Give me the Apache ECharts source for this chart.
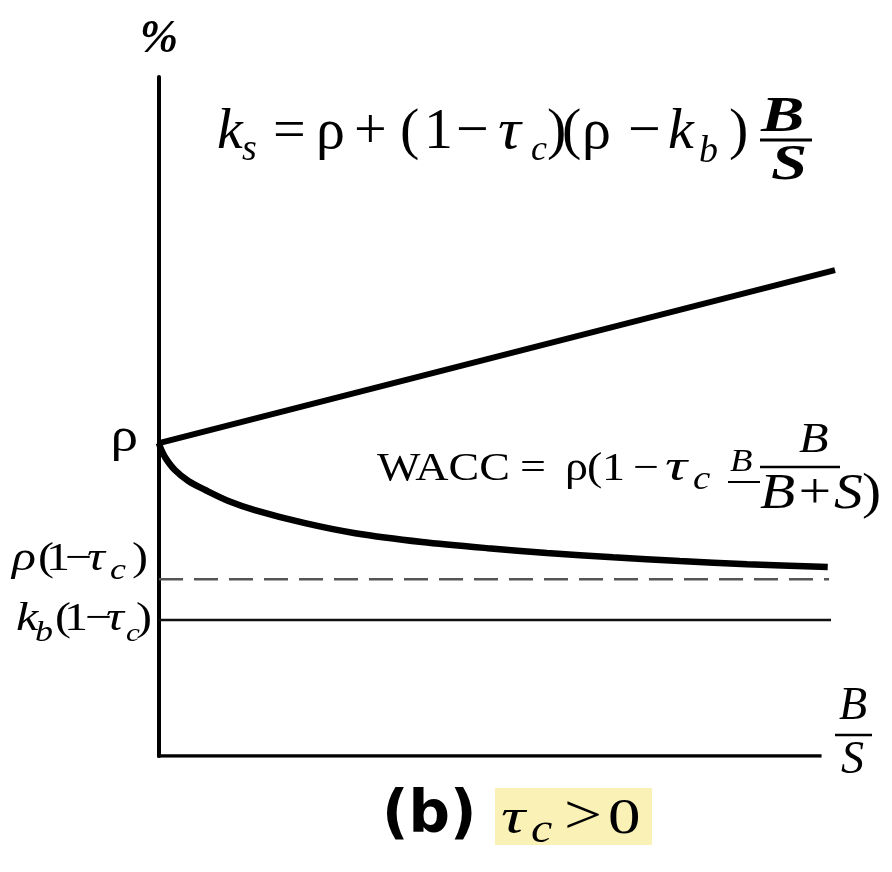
<!DOCTYPE html>
<html>
<head>
<meta charset="utf-8">
<script src="https://cdn.jsdelivr.net/npm/echarts@6/dist/echarts.min.js"></script>
<style>
  html, body { margin: 0; padding: 0; background: #fff; }
  #main { width: 892px; height: 872px; }
</style>
</head>
<body>
<div id="main"></div>
<script>
// x = B/S (debt / equity), y = cost of capital in units where rho = 10
const ksRatio = [0, 10.23];
const ksValues = [10, 15.53];
const waccRatio = [0, 0.03, 0.1, 0.24, 0.45, 0.70, 1.05, 1.45, 2.21, 2.97, 3.98, 4.98, 5.87, 6.87, 7.88, 8.90, 10.12];
const waccValues = [10, 9.81, 9.52, 9.14, 8.78, 8.50, 8.15, 7.86, 7.44, 7.12, 6.84, 6.64, 6.49, 6.35, 6.23, 6.13, 6.04];
const rho = 10;
const rhoAfterTax = 5.65;     // rho(1 - tc), dashed
const debtAfterTax = 4.35;    // kb(1 - tc)
const rhoLineEnd = 10.14;
const debtLineEnd = 10.17;
const axisEnd = 10;           // where the B/S axis stops
const xMax = 10.23;
const yMax = 21.7;

const SERIF = '"Liberation Serif", "DejaVu Serif", serif';
const SANS = '"DejaVu Sans", "Noto Sans", sans-serif';

const zip = (xs, ys) => xs.map((x, i) => [x, ys[i]]);

// one glyph run, placed by its left edge and baseline
function txt(str, left, base, size, opt) {
  opt = opt || {};
  let font = [opt.italic ? 'italic' : '', opt.bold ? 'bold' : '', size + 'px', opt.family || SERIF]
    .filter(Boolean).join(' ');
  return {
    type: 'text',
    x: left,
    y: base - size * 0.34,
    scaleX: opt.sx || 1,
    z: 10,
    style: {
      text: str,
      x: 0,
      y: 0,
      font: font,
      fill: opt.color || '#000',
      align: opt.align || 'left',
      verticalAlign: 'middle',
    },
  };
}

function bar(x1, x2, y, h) {
  return { type: 'rect', z: 10, shape: { x: x1, y: y - h / 2, width: x2 - x1, height: h }, style: { fill: '#000' } };
}

let chart = echarts.init(document.getElementById('main'));

chart.setOption({
  animation: false,
  backgroundColor: '#fff',
  grid: { left: 159, top: 77, width: 676, height: 679 },
  xAxis: {
    type: 'value',
    min: 0,
    max: xMax,
    axisLine: { show: false },
    axisTick: { show: false },
    axisLabel: { show: false },
    splitLine: { show: false },
  },
  yAxis: {
    type: 'value',
    min: 0,
    max: yMax,
    name: '%',
    nameLocation: 'end',
    nameGap: 14,
    nameTextStyle: { fontFamily: SERIF, fontStyle: 'italic', fontWeight: 'bold', fontSize: 46, color: '#000', align: 'center' },
    axisLine: { show: true, onZero: false, lineStyle: { color: '#000', width: 4 } },
    axisTick: { show: false },
    axisLabel: { show: false },
    splitLine: { show: false },
  },
  series: [
    {
      name: 'axis',
      type: 'line',
      symbol: 'none',
      silent: true,
      data: [[0, 0], [axisEnd, 0]],
      lineStyle: { color: '#000', width: 3.5, cap: 'square' },
    },
    {
      name: 'ks',
      type: 'line',
      symbol: 'none',
      data: zip(ksRatio, ksValues),
      lineStyle: { color: '#000', width: 6 },
    },
    {
      name: 'WACC',
      type: 'line',
      symbol: 'none',
      smooth: 0.3,
      data: zip(waccRatio, waccValues),
      lineStyle: { color: '#000', width: 6.5 },
    },
    {
      name: 'rho(1-tc)',
      type: 'line',
      symbol: 'none',
      data: [[0, rhoAfterTax], [rhoLineEnd, rhoAfterTax]],
      lineStyle: { color: '#555', width: 2.5, type: [24, 11] },
    },
    {
      name: 'kb(1-tc)',
      type: 'line',
      symbol: 'none',
      data: [[0, debtAfterTax], [debtLineEnd, debtAfterTax]],
      lineStyle: { color: '#111', width: 2.5 },
    },
  ],
});

// labels on the y axis sit on the library's own scale
let yRho = chart.convertToPixel({ gridIndex: 0 }, [0, rho])[1];
let yRhoTax = chart.convertToPixel({ gridIndex: 0 }, [0, rhoAfterTax])[1];
let yDebt = chart.convertToPixel({ gridIndex: 0 }, [0, debtAfterTax])[1];

let els = [];

// k_s = rho + (1 - tc)(rho - kb) B/S
let b1 = 152, s1 = 58, sub1 = 38, sb1 = 163;
els.push(
  txt('k', 217, b1, s1, { italic: true }),
  txt('s', 242, sb1, sub1, { italic: true }),
  txt('=', 273, b1, s1),
  txt('ρ', 316, b1, s1),
  txt('+', 354, b1, s1),
  txt('(', 400, b1, s1),
  txt('1', 424, b1, s1),
  txt('−', 456, b1, s1),
  txt('τ', 498, b1, s1, { italic: true, sx: 1.1 }),
  txt('c', 531, sb1, sub1 - 2, { italic: true }),
  txt(')', 547, b1, s1),
  txt('(', 562, b1, s1),
  txt('ρ', 582, b1, s1),
  txt('−', 628, b1, s1),
  txt('k', 668, b1, s1, { italic: true }),
  txt('b', 699, sb1 + 2, sub1, { italic: true }),
  txt(')', 729, b1, s1),
  txt('B', 761, 135, 50, { italic: true, bold: true, sx: 1.3 }),
  bar(760, 812, 140, 3),
  txt('S', 771, 183, 50, { italic: true, bold: true, sx: 1.3 })
);

// WACC = rho(1 - tc B/(B+S))
let b2 = 483, s2 = 40, sx2 = 1.15;
els.push(
  txt('WACC', 377, b2, s2, { sx: sx2 }),
  txt('=', 520, b2, s2, { sx: sx2 }),
  txt('ρ', 565, b2, s2, { sx: sx2 }),
  txt('(', 587, b2, s2, { sx: sx2 }),
  txt('1', 602, b2, s2, { sx: sx2 }),
  txt('−', 633, b2, s2, { sx: sx2 }),
  txt('τ', 665, b2, 44, { italic: true, sx: 1.4 }),
  txt('c', 693, 492, 34, { italic: true, sx: sx2 }),
  txt('B', 730, 473, 32, { italic: true, sx: sx2 }),
  bar(728, 760, 482, 2),
  txt('B', 799, 455, 42, { italic: true, sx: sx2 }),
  bar(760, 840, 467, 2.5),
  txt('B+S', 760, 512, 50, { italic: true, sx: sx2 }),
  txt(')', 862, 512, 50, { sx: sx2 })
);

// y axis labels
els.push(txt('ρ', 138, yRho + 12, 48, { align: 'right', sx: 1.15 }));
let bt = yRhoTax - 6, sz = 40, sxl = 1.2;
els.push(
  txt('ρ', 12, bt, sz, { italic: true, sx: 1.25 }),
  txt('(', 38, bt, sz, { sx: sxl }),
  txt('1', 46, bt, sz, { sx: sxl }),
  txt('−', 65, bt, sz, { sx: sxl }),
  txt('τ', 87, bt, sz, { italic: true, sx: 1.25 }),
  txt('c', 110, bt + 8, 30, { italic: true, sx: sxl }),
  txt(')', 132, bt, sz, { sx: sxl })
);
let bd = yDebt + 13;
els.push(
  txt('k', 16, bd, sz, { italic: true, sx: 1.25 }),
  txt('b', 35, bd + 10, 30, { italic: true, sx: sxl }),
  txt('(', 55, bd, sz, { sx: sxl }),
  txt('1', 64, bd, sz, { sx: sxl }),
  txt('−', 85, bd, sz, { sx: sxl }),
  txt('τ', 106, bd, sz, { italic: true, sx: 1.25 }),
  txt('c', 126, bd + 10, 26, { italic: true, sx: sxl }),
  txt(')', 136, bd, sz, { sx: sxl })
);

// x axis name B/S
els.push(
  txt('B', 839, 723, 46, { italic: true }),
  bar(835, 872, 735, 2.5),
  txt('S', 841, 777, 46, { italic: true })
);

// caption (b) tc > 0
els.push(
  { type: 'rect', z: 5, shape: { x: 495, y: 788, width: 157, height: 57 }, style: { fill: '#f9f1b6' } },
  txt('(b)', 382, 837, 58, { bold: true, family: SANS }),
  txt('τ', 501, 837, 50, { italic: true, sx: 1.35 }),
  txt('c', 531, 845, 40, { italic: true, sx: 1.2 }),
  txt('>', 564, 837, 54, { sx: 1.25 }),
  txt('0', 608, 837, 50, { sx: 1.3 })
);

chart.setOption({ graphic: { elements: els } });
</script>
</body>
</html>
